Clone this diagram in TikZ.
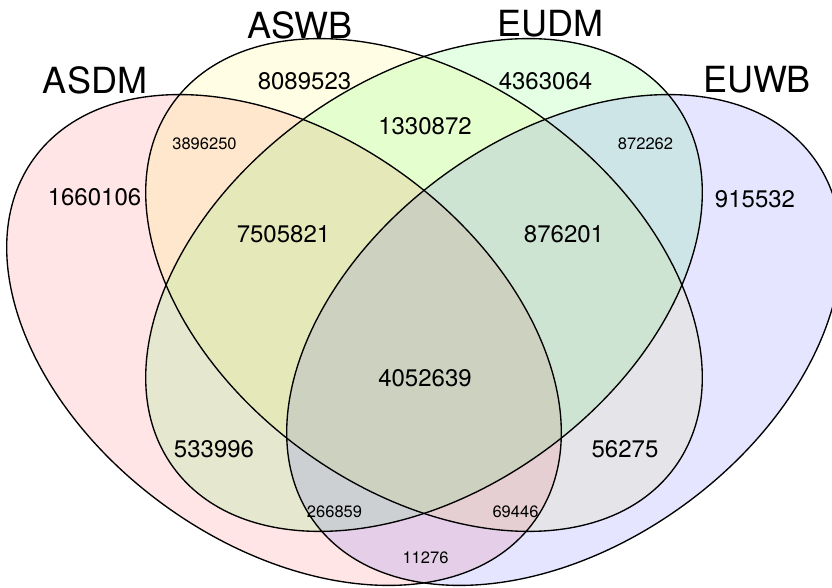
\documentclass[tikz,border=0pt]{standalone}
\usepackage{fontspec}
\setmainfont{TeX Gyre Heros}
\begin{document}
\begin{tikzpicture}[x=1pt,y=1pt,
  setfill/.style={fill=#1, fill opacity=0.1, draw=none},
  outline/.style={draw=black, line width=1.35pt},
  big/.style={inner sep=0pt, font=\fontsize{24}{24}\selectfont},
  small/.style={inner sep=0pt, font=\fontsize{16.5}{16.5}\selectfont},
  cat/.style={inner sep=0pt, font=\fontsize{36}{36}\selectfont}]
\useasboundingbox (0,0) rectangle (832,588);
\clip (0,0) rectangle (832,588);
\coordinate (cA) at (284,248);
\coordinate (cB) at (424,303);
\coordinate (cC) at (424,303);
\coordinate (cD) at (564,248);
% fills
\fill[setfill=red, rotate around={-36:(cA)}] (cA) ellipse [x radius=309pt, y radius=204pt];
\fill[setfill=yellow, rotate around={-36:(cB)}] (cB) ellipse [x radius=310pt, y radius=205pt];
\fill[setfill=green, rotate around={36:(cC)}] (cC) ellipse [x radius=310pt, y radius=205pt];
\fill[setfill=blue, rotate around={36:(cD)}] (cD) ellipse [x radius=309pt, y radius=204pt];
% outlines
\draw[outline, rotate around={-36:(cA)}] (cA) ellipse [x radius=309pt, y radius=204pt];
\draw[outline, rotate around={-36:(cB)}] (cB) ellipse [x radius=310pt, y radius=205pt];
\draw[outline, rotate around={36:(cC)}] (cC) ellipse [x radius=310pt, y radius=205pt];
\draw[outline, rotate around={36:(cD)}] (cD) ellipse [x radius=309pt, y radius=204pt];
% category labels
\node[cat] (lA) at (95,508) {ASDM};
\node[cat] (lB) at (300,563) {ASWB};
\node[cat] (lC) at (550,564) {EUDM};
\node[cat] (lD) at (757,508) {EUWB};
% counts
\node[big] (n1) at (304.5,507) {8089523};
\node[big] (n2) at (94.5,391) {1660106};
\node[small] (n3) at (204.5,444.5) {3896250};
\node[big] (n4) at (283.5,354) {7505821};
\node[big] (n5) at (425,462) {1330872};
\node[big] (n6) at (545.5,507) {4363064};
\node[small] (n7) at (645.5,444) {872262};
\node[big] (n8) at (564,354) {876201};
\node[big] (n9) at (755,389) {915532};
\node[big] (n10) at (425,210) {4052639};
\node[big] (n11) at (214,139) {533996};
\node[big] (n12) at (625,139) {56275};
\node[small] (n13) at (334.5,76) {266859};
\node[small] (n14) at (515.5,76) {69446};
\node[small] (n15) at (425.5,30.5) {11276};
\end{tikzpicture}
\end{document}
